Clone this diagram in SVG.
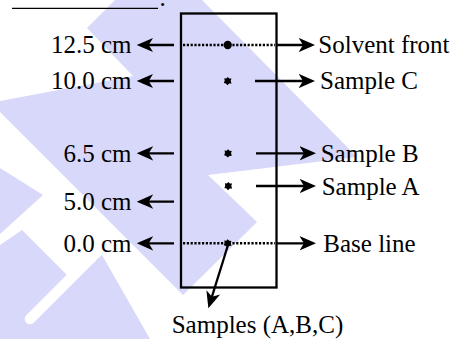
<svg xmlns="http://www.w3.org/2000/svg" width="452" height="339" viewBox="0 0 452 339">
<style>
.wm{fill:#d8d8fa;stroke:none}
.lbl{font-family:"Liberation Serif","Times New Roman",serif;font-size:25px;fill:#000}
.end{text-anchor:end}
.arr{stroke:#000;stroke-width:2.3;fill:none;marker-end:url(#ah)}
.dot{stroke:#000;stroke-width:2.4;stroke-dasharray:2.2 1.6;fill:none}
.spot{fill:#000}
</style>
<defs>
<marker id="ah" markerUnits="userSpaceOnUse" viewBox="0 0 17 16" markerWidth="17" markerHeight="16" refX="12" refY="8" orient="auto">
<path d="M16.5,8 L0,0.8 L4.5,8 L0,15.2 Z" fill="#000"/>
</marker>
<path id="sp" d="M0,-4 L1.6,-2.6 L3.8,-2.4 L3,-0.2 L3.8,2.4 L1.4,2.6 L-0.2,4.2 L-1.8,2.6 L-3.9,2 L-3,-0.3 L-3.4,-2.8 L-1.4,-2.6 Z"/>
</defs>
<rect width="452" height="339" fill="#fff"/>
<g id="watermark">
<polygon class="wm" points="115,0 202,0 357,157 208,175 257,222 183,295 0,112 0,101 133,76 87,28"/>
<polygon class="wm" points="0,168 43,195 0,234"/>
<polygon class="wm" points="0,245 22,230 72,280 102,255 150,339 0,339"/>
<line x1="30" y1="319" x2="92" y2="257" stroke="#fff" stroke-width="10.6" stroke-linecap="round"/>
</g>
<g id="header">
<line x1="12" y1="8.3" x2="158" y2="8.3" stroke="#000" stroke-width="1.3"/>
<text class="lbl" x="159.5" y="6">.</text>
</g>
<g id="plate">
<rect x="181" y="13.5" width="95.5" height="274" fill="none" stroke="#000" stroke-width="2.3"/>
<line class="dot" x1="183" y1="45" x2="275" y2="45"/>
<line class="dot" x1="183" y1="243.3" x2="275" y2="243.3"/>
<circle class="spot" cx="227.7" cy="45" r="4.2"/>
<use href="#sp" x="227.7" y="81"/>
<use href="#sp" x="228" y="153.3"/>
<use href="#sp" x="228.3" y="186"/>
<use href="#sp" x="227.7" y="243.3"/>
</g>
<g id="connectors">
<line class="arr" x1="174" y1="45" x2="141.2" y2="45"/>
<line class="arr" x1="174" y1="81" x2="141.2" y2="81"/>
<line class="arr" x1="174" y1="153.3" x2="141.2" y2="153.3"/>
<line class="arr" x1="174" y1="201.7" x2="141.2" y2="201.7"/>
<line class="arr" x1="174" y1="243.3" x2="141.2" y2="243.3"/>
<line class="arr" x1="276.7" y1="45" x2="310.5" y2="45"/>
<line class="arr" x1="255" y1="81" x2="310.5" y2="81"/>
<line class="arr" x1="256" y1="153.3" x2="311.5" y2="153.3"/>
<line class="arr" x1="256" y1="186" x2="311.5" y2="186"/>
<line class="arr" x1="276.7" y1="243.3" x2="311.5" y2="243.3"/>
<line class="arr" x1="227.7" y1="246" x2="209.7" y2="303.9"/>
</g>
<g id="label-125"><text class="lbl end" x="131.5" y="53">12.5 cm</text></g>
<g id="label-100"><text class="lbl end" x="131.5" y="89">10.0 cm</text></g>
<g id="label-65"><text class="lbl end" x="131.5" y="161.5">6.5 cm</text></g>
<g id="label-50"><text class="lbl end" x="131.5" y="209.5">5.0 cm</text></g>
<g id="label-00"><text class="lbl end" x="131.5" y="251.5">0.0 cm</text></g>
<g id="label-solvent"><text class="lbl" x="318.3" y="53">Solvent front</text></g>
<g id="label-c"><text class="lbl" x="320" y="89">Sample C</text></g>
<g id="label-b"><text class="lbl" x="320.7" y="161.5">Sample B</text></g>
<g id="label-a"><text class="lbl" x="321.7" y="194.5">Sample A</text></g>
<g id="label-base"><text class="lbl" x="323.3" y="251.5">Base line</text></g>
<g id="label-samples"><text class="lbl" x="171.7" y="333">Samples (A,B,C)</text></g>
</svg>
